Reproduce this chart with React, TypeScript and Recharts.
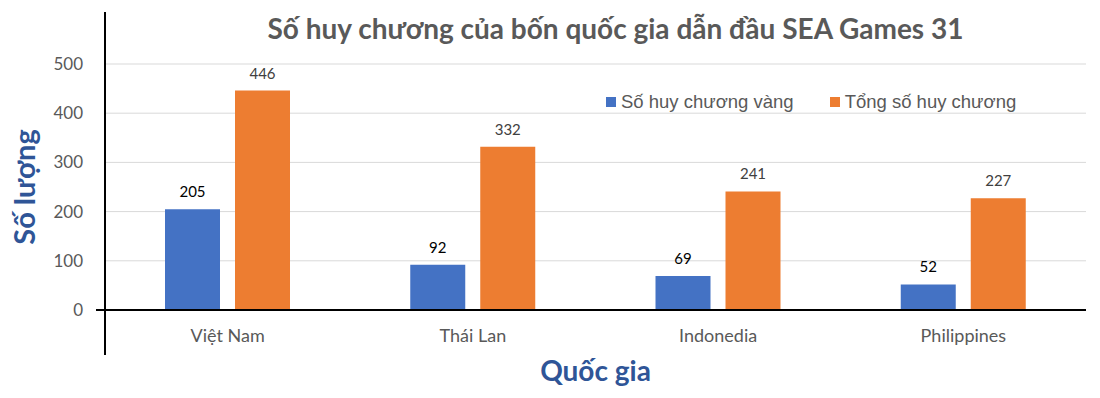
import {
  BarChart,
  Bar,
  XAxis,
  YAxis,
  CartesianGrid,
  LabelList,
  Label,
} from "recharts";

const countries = ["Việt Nam", "Thái Lan", "Indonedia", "Philippines"];
const goldMedals = [205, 92, 69, 52];
const totalMedals = [446, 332, 241, 227];
const yTicks = [0, 100, 200, 300, 400, 500];

const seriesNames = ["Số huy chương vàng", "Tổng số huy chương"];
const seriesColors = ["#4472C4", "#ED7D31"];

const font = "Lato, 'Liberation Sans', sans-serif";

export default function App() {
  // one row per country
  const data = countries.map((name, i) => ({
    name,
    gold: goldMedals[i],
    total: totalMedals[i],
  }));

  return (
    <div
      style={{
        position: "absolute",
        left: 0,
        top: 0,
        width: 1100,
        height: 398,
        background: "#fff",
      }}
    >
      <div
        style={{
          position: "absolute",
          left: 0,
          width: 1231,
          top: 11,
          textAlign: "center",
          fontFamily: font,
          fontWeight: 700,
          fontSize: 28,
          color: "#595959",
          whiteSpace: "nowrap",
        }}
      >
        Số huy chương của bốn quốc gia dẫn đầu SEA Games 31
      </div>

      <BarChart
        width={1100}
        height={398}
        data={data}
        margin={{ top: 64, right: 14, bottom: 0, left: 0 }}
        barSize={55}
        barGap={15}
      >
        <CartesianGrid vertical={false} stroke="#D9D9D9" />
        <XAxis
          dataKey="name"
          height={88}
          axisLine={{ stroke: "#000", strokeWidth: 2 }}
          tickLine={false}
          tickSize={0}
          tickMargin={19}
          tick={{ fill: "#595959", fontSize: 18, fontFamily: font }}
        >
          <Label
            value="Quốc gia"
            position="insideBottom"
            offset={17}
            style={{
              fontFamily: font,
              fontWeight: 700,
              fontSize: 28,
              fill: "#2F5597",
            }}
          />
        </XAxis>
        <YAxis
          width={105}
          domain={[0, 500]}
          ticks={yTicks}
          axisLine={false}
          tickLine={false}
          tickSize={0}
          tickMargin={22}
          tick={{ fill: "#595959", fontSize: 17, fontFamily: font }}
        >
          <Label
            value="Số lượng"
            angle={-90}
            position="insideLeft"
            offset={25}
            style={{
              fontFamily: font,
              fontWeight: 700,
              fontSize: 29,
              fill: "#2F5597",
              textAnchor: "middle",
            }}
          />
        </YAxis>
        <Bar dataKey="gold" name={seriesNames[0]} fill={seriesColors[0]} isAnimationActive={false}>
          <LabelList
            dataKey="gold"
            position="top"
            offset={12}
            style={{ fill: "#000", fontSize: 15, fontFamily: font }}
          />
        </Bar>
        <Bar dataKey="total" name={seriesNames[1]} fill={seriesColors[1]} isAnimationActive={false}>
          <LabelList
            dataKey="total"
            position="top"
            offset={12}
            style={{ fill: "#404040", fontSize: 15, fontFamily: font }}
          />
        </Bar>
      </BarChart>

      {/* legend */}
      <div
        style={{
          position: "absolute",
          left: 606,
          top: 91,
          display: "flex",
          fontFamily: "'Liberation Sans', Arial, sans-serif",
          fontSize: 18.5,
          color: "#595959",
        }}
      >
        {seriesNames.map((s, i) => (
          <div key={s} style={{ display: "flex", alignItems: "center", marginRight: i === 0 ? 36 : 0 }}>
            <span
              style={{
                display: "inline-block",
                width: 10,
                height: 10,
                background: seriesColors[i],
                marginRight: 5,
              }}
            />
            {s}
          </div>
        ))}
      </div>

      {/* y axis line runs past the plot, like the original */}
      <div style={{ position: "absolute", left: 104, top: 12, width: 2, height: 343, background: "#000" }} />
      <div style={{ position: "absolute", left: 96, top: 309, width: 9, height: 2, background: "#000" }} />
    </div>
  );
}
